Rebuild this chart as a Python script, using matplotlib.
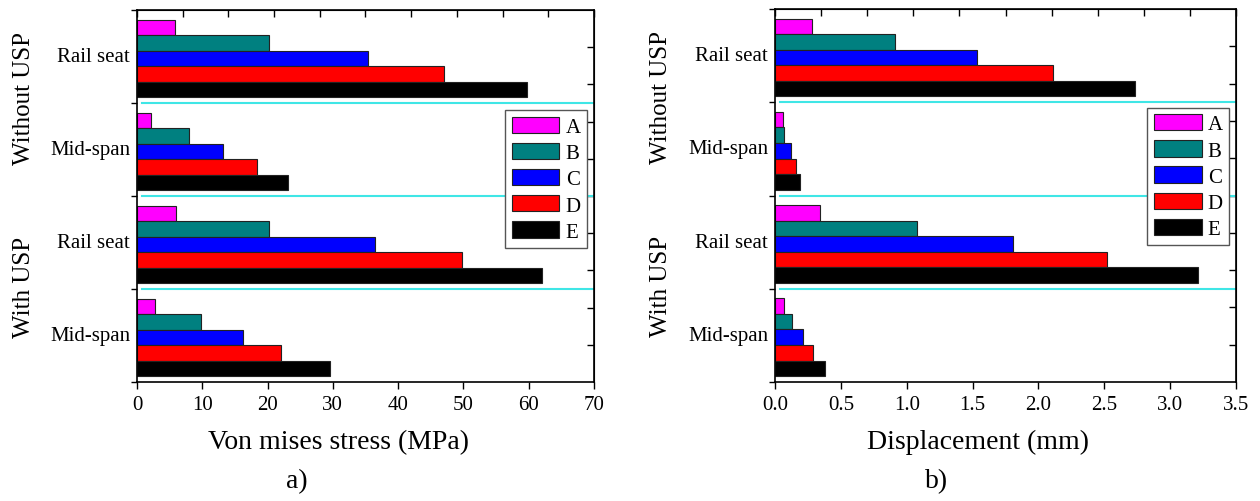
import matplotlib
matplotlib.use("Agg")
import matplotlib.pyplot as plt
import numpy as np

plt.rcParams['font.family'] = ['Liberation Serif', 'DejaVu Serif']

# --- Data ---
groups = ["Rail seat", "Mid-span", "Rail seat", "Mid-span"]   # top to bottom
series = ["A", "B", "C", "D", "E"]
colors = ["#FF00FF", "#008080", "#0000FF", "#FF0000", "#000000"]

# Von mises stress (MPa), one list per series, values for the 4 groups
stress_A = [5.8, 2.2, 6.0, 2.7]
stress_B = [20.2, 7.9, 20.3, 9.8]
stress_C = [35.4, 13.2, 36.5, 16.2]
stress_D = [47.0, 18.4, 49.8, 22.0]
stress_E = [59.7, 23.2, 62.1, 29.6]

# Displacement (mm)
disp_A = [0.28, 0.057, 0.34, 0.066]
disp_B = [0.91, 0.069, 1.08, 0.13]
disp_C = [1.53, 0.12, 1.81, 0.21]
disp_D = [2.11, 0.16, 2.52, 0.285]
disp_E = [2.73, 0.19, 3.21, 0.38]

stress = [stress_A, stress_B, stress_C, stress_D, stress_E]
disp = [disp_A, disp_B, disp_C, disp_D, disp_E]

BAR_H = 0.167
CYAN = "#3FE6E6"


def draw_panel(ax, data, xmax, xticks, xlabel, tag, legend_anchor):
    centers = np.arange(len(groups)) + 0.52
    for i, (vals, c, name) in enumerate(zip(data, colors, series)):
        y = centers + (i - 2) * BAR_H
        ax.barh(y, vals, height=BAR_H, color=c, edgecolor="#222222",
                linewidth=0.8, label=name, zorder=2)

    # separators between groups
    for b in [1, 2, 3]:
        ax.axhline(b, color=CYAN, lw=1.5, zorder=1, xmin=0.01)

    ax.set_xlim(0, xmax)
    ax.set_ylim(4, 0)

    # bottom axis
    ax.set_xticks(xticks)
    ax.set_xticklabels([f"{t:g}" if xmax > 10 else f"{t:.1f}" for t in xticks])
    ax.tick_params(axis='x', direction='out', length=5, width=1, labelsize=15, pad=4)

    # left axis: boundary ticks, labels at group centers
    ax.set_yticks([0, 1, 2, 3, 4])
    ax.set_yticklabels([])
    ax.tick_params(axis='y', direction='out', length=4, width=1)
    for c_, g in zip(np.arange(len(groups)) + 0.5, groups):
        ax.text(-0.015, c_, g, transform=ax.get_yaxis_transform(),
                ha='right', va='center', fontsize=15)

    # top and right ticks (inward, no labels)
    top = ax.secondary_xaxis('top')
    top.set_xticks(np.linspace(0, xmax, 11))
    top.tick_params(direction='in', length=5, width=1, labeltop=False)
    right = ax.secondary_yaxis('right')
    right.set_yticks(np.arange(0.4, 4.0, 0.4))
    right.tick_params(direction='in', length=5, width=1, labelright=False)

    for s in ax.spines.values():
        s.set_linewidth(1.2)

    ax.text(0.44, -0.16, xlabel, transform=ax.transAxes, ha='center', va='center',
            fontsize=20)
    ax.text(0.35, -0.265, tag, transform=ax.transAxes, ha='center', va='center',
            fontsize=20)

    # group labels
    ax.text(-0.247, 0.765, "Without USP", transform=ax.transAxes, rotation=90,
            ha='center', va='center', fontsize=18)
    ax.text(-0.247, 0.258, "With USP", transform=ax.transAxes, rotation=90,
            ha='center', va='center', fontsize=18)

    leg = ax.legend(loc='upper right', bbox_to_anchor=legend_anchor, borderaxespad=0,
                    fontsize=15, handlelength=2.3, handleheight=0.82,
                    labelspacing=0.28, handletextpad=0.3, borderpad=0.3,
                    fancybox=False, framealpha=1, edgecolor="#555555")
    leg.get_frame().set_linewidth(1.0)


fig = plt.figure(figsize=(12.6, 5.02), dpi=100)
ax1 = fig.add_axes([0.1087, 0.237, 0.3627, 0.741])
ax2 = fig.add_axes([0.6151, 0.237, 0.3659, 0.743])

draw_panel(ax1, stress, 70, np.arange(0, 71, 10), "Von mises stress (MPa)", "a)", (0.985, 0.73))
draw_panel(ax2, disp, 3.5, np.arange(0, 3.51, 0.5), "Displacement (mm)", "b)", (0.985, 0.735))

fig.savefig("out.png", dpi=100, facecolor='white')
